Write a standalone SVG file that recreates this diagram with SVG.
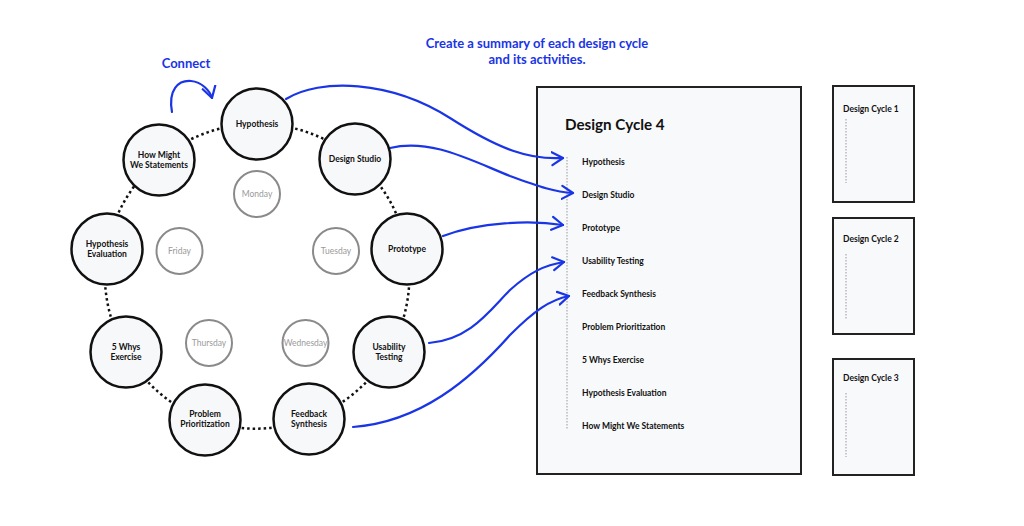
<svg xmlns="http://www.w3.org/2000/svg" width="1024" height="526" viewBox="0 0 1024 526">
<defs>
<style>
.node{fill:#f7f8fa;stroke:#111;stroke-width:2.5}
.day{fill:#fff;stroke:#8a8a8a;stroke-width:2}
.lbl{font-family:Lato,"Open Sans","Liberation Sans",sans-serif;font-weight:bold;font-size:8.5px;fill:#111;text-anchor:middle}
.dlbl{font-family:Lato,"Open Sans","Liberation Sans",sans-serif;font-size:8.5px;fill:#9a9a9a;text-anchor:middle}
.dot{fill:none;stroke:#111;stroke-width:2.5;stroke-dasharray:2.5 3}
.blue{fill:none;stroke:#1a35e6;stroke-width:2.2;stroke-linecap:round}
.btxt{font-family:Lato,"Open Sans","Liberation Sans",sans-serif;font-weight:bold;font-size:13px;fill:#1a35e6;text-anchor:middle}
.card{fill:#f8f9fb;stroke:#222;stroke-width:2}
.item{font-family:Lato,"Open Sans","Liberation Sans",sans-serif;font-weight:bold;font-size:8.5px;fill:#111}
.gline{stroke:#999;stroke-width:1;stroke-dasharray:1.5 1.5}
</style>
<marker id="ah" viewBox="-12 -8 14 16" refX="0" refY="0" markerWidth="14" markerHeight="16" markerUnits="userSpaceOnUse" orient="auto">
<path d="M-11,-6.5 L0,0 L-11,6.5" fill="none" stroke="#1a35e6" stroke-width="2.2" stroke-linecap="round" stroke-linejoin="round"/>
</marker>
</defs>
<rect width="1024" height="526" fill="#fff"/>

<g id="card-4">
<rect class="card" x="537" y="87" width="264" height="387"/>
<text x="565" y="130" font-family="Lato,'Open Sans','Liberation Sans',sans-serif" font-weight="bold" font-size="15.2" fill="#111">Design Cycle 4</text>
<line class="gline" x1="567" y1="157" x2="567" y2="430"/>
<text class="item" x="582" y="165">Hypothesis</text>
<text class="item" x="582" y="198">Design Studio</text>
<text class="item" x="582" y="231">Prototype</text>
<text class="item" x="582" y="264">Usability Testing</text>
<text class="item" x="582" y="297">Feedback Synthesis</text>
<text class="item" x="582" y="330">Problem Prioritization</text>
<text class="item" x="582" y="363">5 Whys Exercise</text>
<text class="item" x="582" y="396">Hypothesis Evaluation</text>
<text class="item" x="582" y="429">How Might We Statements</text>
</g>

<g id="card-1">
<rect class="card" x="833" y="86" width="81" height="116"/>
<text class="item" x="843" y="112">Design Cycle 1</text>
<line class="gline" x1="846" y1="119" x2="846" y2="183"/>
</g>
<g id="card-2">
<rect class="card" x="833" y="218" width="81" height="116"/>
<text class="item" x="843" y="242">Design Cycle 2</text>
<line class="gline" x1="846" y1="254" x2="846" y2="319"/>
</g>
<g id="card-3">
<rect class="card" x="833" y="359" width="81" height="116"/>
<text class="item" x="843" y="381">Design Cycle 3</text>
<line class="gline" x1="846" y1="393" x2="846" y2="457"/>
</g>

<g id="connectors">
<path class="dot" d="M257,124 A152,152 0 0 1 355,159"/>
<path class="dot" d="M355,159 A152,152 0 0 1 407,249"/>
<path class="dot" d="M407,249 A152,152 0 0 1 389,352"/>
<path class="dot" d="M389,352 A152,152 0 0 1 309,419"/>
<path class="dot" d="M309,419 A152,152 0 0 1 205,420"/>
<path class="dot" d="M205,420 A152,152 0 0 1 126,352"/>
<path class="dot" d="M126,352 A152,152 0 0 1 107,249"/>
<path class="dot" d="M107,249 A152,152 0 0 1 159,160"/>
<path class="dot" d="M159,160 A152,152 0 0 1 257,124"/>
<path class="blue" marker-end="url(#ah)" d="M172,112 C168,90 178,80 191,81 C202,82 210,91 212,98"/>
<path class="blue" marker-end="url(#ah)" d="M286,99 C320,78 390,80 450,118 C500,150 530,160 563,158"/>
<path class="blue" marker-end="url(#ah)" d="M390,148 C430,138 470,160 510,176 C540,187 555,192 573,193"/>
<path class="blue" marker-end="url(#ah)" d="M443,236 C480,222 530,220 563,225"/>
<path class="blue" marker-end="url(#ah)" d="M429,343 C470,340 490,310 510,290 C530,272 545,265 564,262"/>
<path class="blue" marker-end="url(#ah)" d="M353,427 C420,422 470,380 510,335 C535,310 550,300 569,296"/>
</g>

<text class="btxt" x="186" y="68">Connect</text>
<text class="btxt" x="537" y="48">Create a summary of each design cycle</text>
<text class="btxt" x="537" y="64">and its activities.</text>

<g id="n-hypothesis"><circle class="node" cx="257" cy="124" r="35.5"/><text class="lbl" x="257" y="127">Hypothesis</text></g>
<g id="n-design-studio"><circle class="node" cx="355" cy="159" r="35.5"/><text class="lbl" x="355" y="162">Design Studio</text></g>
<g id="n-prototype"><circle class="node" cx="407" cy="249" r="35.5"/><text class="lbl" x="407" y="252">Prototype</text></g>
<g id="n-usability"><circle class="node" cx="389" cy="352" r="35.5"/><text class="lbl" x="389" y="350">Usability</text><text class="lbl" x="389" y="360">Testing</text></g>
<g id="n-feedback"><circle class="node" cx="309" cy="419" r="35.5"/><text class="lbl" x="309" y="417">Feedback</text><text class="lbl" x="309" y="427">Synthesis</text></g>
<g id="n-problem"><circle class="node" cx="205" cy="420" r="35.5"/><text class="lbl" x="205" y="417">Problem</text><text class="lbl" x="205" y="427">Prioritization</text></g>
<g id="n-5whys"><circle class="node" cx="126" cy="352" r="35.5"/><text class="lbl" x="126" y="350">5 Whys</text><text class="lbl" x="126" y="360">Exercise</text></g>
<g id="n-hyp-eval"><circle class="node" cx="107" cy="249" r="35.5"/><text class="lbl" x="107" y="247">Hypothesis</text><text class="lbl" x="107" y="257">Evaluation</text></g>
<g id="n-hmw"><circle class="node" cx="159" cy="160" r="35.5"/><text class="lbl" x="159" y="158">How Might</text><text class="lbl" x="159" y="168">We Statements</text></g>

<g id="d-monday"><circle class="day" cx="257" cy="194" r="23"/><text class="dlbl" x="257" y="197">Monday</text></g>
<g id="d-tuesday"><circle class="day" cx="336" cy="251" r="23"/><text class="dlbl" x="336" y="254">Tuesday</text></g>
<g id="d-wednesday"><circle class="day" cx="305.5" cy="343" r="23"/><text class="dlbl" x="305.5" y="346">Wednesday</text></g>
<g id="d-thursday"><circle class="day" cx="209" cy="343" r="23"/><text class="dlbl" x="209" y="346">Thursday</text></g>
<g id="d-friday"><circle class="day" cx="179.5" cy="251" r="23"/><text class="dlbl" x="179.5" y="254">Friday</text></g>
</svg>
